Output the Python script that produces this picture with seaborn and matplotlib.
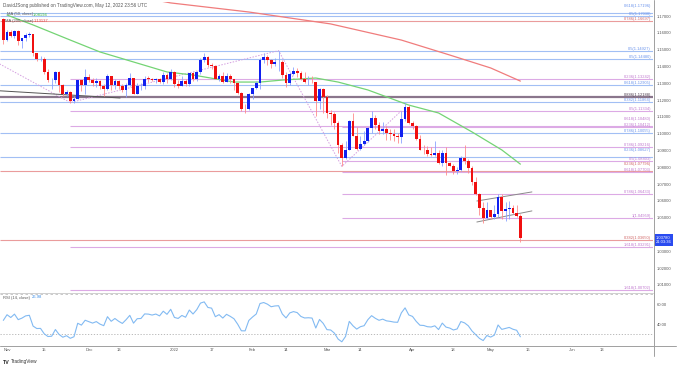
import numpy as np
import pandas as pd
import matplotlib
matplotlib.use('Agg')
import matplotlib.pyplot as plt
import matplotlib.transforms as mtransforms
from matplotlib.lines import Line2D
import seaborn as sns

# EUR/USD daily candles, Oct 29 2021 .. May 12 2022 (bar index 0..139)
opens = [1.1682,
    1.1560, 1.1607, 1.1580, 1.1610, 1.1555, 1.1568, 1.1587, 1.1592, 1.1478, 1.1445, 1.1446, 1.1367, 1.1319, 1.1321, 1.1368,
    1.1289, 1.1237, 1.1248, 1.1198, 1.1209, 1.1318, 1.1292,
    1.1338, 1.1320, 1.1302, 1.1315, 1.1285, 1.1266, 1.1343, 1.1290, 1.1316, 1.1284, 1.1258, 1.1290, 1.1330, 1.1239, 1.1282,
    1.1284, 1.1329, 1.1327, 1.1318, 1.1327, 1.1311, 1.1351, 1.1325,
    1.1370, 1.1297, 1.1287, 1.1312, 1.1296, 1.1360, 1.1325, 1.1367, 1.1442, 1.1458, 1.1412, 1.1406, 1.1325, 1.1345, 1.1310,
    1.1345, 1.1325, 1.1301, 1.1240, 1.1146, 1.1145,
    1.1235, 1.1270, 1.1302, 1.1440, 1.1456, 1.1440, 1.1415, 1.1425, 1.1428, 1.1349, 1.1305, 1.1358, 1.1373, 1.1363, 1.1324,
    1.1308, 1.1310, 1.1307, 1.1195, 1.1269,
    1.1219, 1.1124, 1.1118, 1.1064, 1.0932, 1.0854, 1.0903, 1.1076, 1.0986, 1.0911, 1.0942, 1.0955, 1.1035, 1.1094, 1.1050,
    1.1016, 1.1031, 1.1004, 1.0996, 1.0985, 1.0982, 1.1088, 1.1158,
    1.1067, 1.1046, 1.0971, 1.0905, 1.0901, 1.0880, 1.0875, 1.0886, 1.0827, 1.0888, 1.0826, 1.0810, 1.0778, 1.0787, 1.0854,
    1.0836, 1.0796, 1.0714, 1.0642, 1.0558, 1.0500,
    1.0545, 1.0507, 1.0524, 1.0623, 1.0541, 1.0551, 1.0561, 1.0530, 1.0512]
highs = [1.1692,
    1.1616, 1.1617, 1.1617, 1.1616, 1.1570, 1.1600, 1.1608, 1.1597, 1.1482, 1.1464, 1.1460, 1.1386, 1.1330, 1.1374, 1.1375,
    1.1298, 1.1262, 1.1252, 1.1226, 1.1319, 1.1323, 1.1383,
    1.1353, 1.1333, 1.1333, 1.1320, 1.1295, 1.1355, 1.1345, 1.1326, 1.1322, 1.1298, 1.1300, 1.1360, 1.1334, 1.1305, 1.1304,
    1.1345, 1.1342, 1.1332, 1.1330, 1.1335, 1.1369, 1.1361, 1.1386,
    1.1376, 1.1322, 1.1346, 1.1326, 1.1364, 1.1367, 1.1372, 1.1454, 1.1482, 1.1465, 1.1420, 1.1411, 1.1356, 1.1369, 1.1362,
    1.1356, 1.1328, 1.1301, 1.1246, 1.1175, 1.1240,
    1.1275, 1.1312, 1.1449, 1.1483, 1.1472, 1.1448, 1.1449, 1.1495, 1.1440, 1.1368, 1.1368, 1.1395, 1.1394, 1.1375, 1.1365,
    1.1345, 1.1343, 1.1307, 1.1274, 1.1273,
    1.1233, 1.1141, 1.1129, 1.1075, 1.0947, 1.0955, 1.1081, 1.1121, 1.1042, 1.0988, 1.1017, 1.1040, 1.1137, 1.1110, 1.1068,
    1.1069, 1.1047, 1.1028, 1.1030, 1.1003, 1.1137, 1.1185, 1.1171,
    1.1076, 1.1055, 1.0994, 1.0935, 1.0925, 1.0921, 1.0956, 1.0906, 1.0904, 1.0924, 1.0830, 1.0822, 1.0800, 1.0866, 1.0936,
    1.0852, 1.0807, 1.0740, 1.0650, 1.0594, 1.0593,
    1.0546, 1.0578, 1.0641, 1.0642, 1.0593, 1.0600, 1.0579, 1.0579, 1.0520]
lows = [1.1535,
    1.1552, 1.1575, 1.1571, 1.1528, 1.1513, 1.1553, 1.1577, 1.1464, 1.1432, 1.1433, 1.1358, 1.1309, 1.1264, 1.1302, 1.1250,
    1.1227, 1.1225, 1.1186, 1.1185, 1.1206, 1.1256, 1.1235,
    1.1306, 1.1287, 1.1279, 1.1264, 1.1227, 1.1262, 1.1263, 1.1269, 1.1265, 1.1251, 1.1222, 1.1286, 1.1236, 1.1234, 1.1262,
    1.1268, 1.1310, 1.1312, 1.1300, 1.1300, 1.1294, 1.1300, 1.1320,
    1.1280, 1.1272, 1.1285, 1.1285, 1.1286, 1.1312, 1.1316, 1.1355, 1.1430, 1.1397, 1.1388, 1.1324, 1.1315, 1.1301, 1.1306,
    1.1300, 1.1263, 1.1235, 1.1136, 1.1121, 1.1141,
    1.1210, 1.1266, 1.1268, 1.1419, 1.1411, 1.1393, 1.1404, 1.1374, 1.1331, 1.1280, 1.1290, 1.1350, 1.1340, 1.1320, 1.1303,
    1.1290, 1.1300, 1.1106, 1.1150, 1.1125,
    1.1092, 1.1055, 1.1030, 1.0885, 1.0806, 1.0850, 1.0902, 1.0985, 1.0906, 1.0905, 1.0934, 1.0950, 1.1006, 1.1027, 1.1001,
    1.0998, 1.0962, 1.0963, 1.0957, 1.0944, 1.0945, 1.1076, 1.1061,
    1.1030, 1.0966, 1.0904, 1.0880, 1.0868, 1.0865, 1.0868, 1.0822, 1.0809, 1.0757, 1.0806, 1.0760, 1.0761, 1.0780, 1.0823,
    1.0768, 1.0697, 1.0637, 1.0514, 1.0472, 1.0492,
    1.0490, 1.0492, 1.0505, 1.0493, 1.0483, 1.0494, 1.0522, 1.0504, 1.0354]
closes = [1.1558,
    1.1607, 1.1580, 1.1610, 1.1555, 1.1568, 1.1587, 1.1592, 1.1478, 1.1445, 1.1446, 1.1367, 1.1319, 1.1321, 1.1368, 1.1289,
    1.1237, 1.1248, 1.1198, 1.1209, 1.1318, 1.1292, 1.1338,
    1.1320, 1.1302, 1.1315, 1.1285, 1.1266, 1.1343, 1.1290, 1.1316, 1.1284, 1.1258, 1.1290, 1.1330, 1.1239, 1.1282, 1.1284,
    1.1329, 1.1327, 1.1318, 1.1327, 1.1311, 1.1351, 1.1325, 1.1370,
    1.1297, 1.1287, 1.1312, 1.1296, 1.1360, 1.1325, 1.1367, 1.1442, 1.1458, 1.1412, 1.1406, 1.1325, 1.1345, 1.1310, 1.1345,
    1.1325, 1.1301, 1.1240, 1.1146, 1.1145, 1.1235,
    1.1270, 1.1302, 1.1440, 1.1456, 1.1440, 1.1415, 1.1425, 1.1428, 1.1349, 1.1305, 1.1358, 1.1373, 1.1363, 1.1324, 1.1308,
    1.1310, 1.1307, 1.1195, 1.1269, 1.1219,
    1.1124, 1.1118, 1.1064, 1.0932, 1.0854, 1.0903, 1.1076, 1.0986, 1.0911, 1.0942, 1.0955, 1.1035, 1.1094, 1.1050, 1.1016,
    1.1031, 1.1004, 1.0996, 1.0985, 1.0982, 1.1088, 1.1158, 1.1067,
    1.1046, 1.0971, 1.0905, 1.0901, 1.0880, 1.0875, 1.0886, 1.0827, 1.0888, 1.0826, 1.0810, 1.0778, 1.0787, 1.0854, 1.0836,
    1.0796, 1.0714, 1.0642, 1.0558, 1.0500, 1.0545,
    1.0507, 1.0524, 1.0623, 1.0541, 1.0551, 1.0561, 1.0530, 1.0512, 1.0378]

# closes before the window (Sep/Oct 2021), only used to warm up the RSI
warmup_closes = [1.1838, 1.1875, 1.1880, 1.1868, 1.1838, 1.1818, 1.1827, 1.1812, 1.1807, 1.1805, 1.1818,
                 1.1763, 1.1726, 1.1727, 1.1723, 1.1690, 1.1741, 1.1719, 1.1695, 1.1683, 1.1596, 1.1578,
                 1.1596, 1.1620, 1.1597, 1.1533, 1.1553, 1.1571, 1.1552, 1.1529, 1.1595, 1.1598,
                 1.1600, 1.1608, 1.1635, 1.1652, 1.1622, 1.1644, 1.1608, 1.1599, 1.1604, 1.1681]

# moving averages (bar index, value)
sma50_bar = [1, 8, 18, 26, 44, 51, 62, 69, 75, 84, 90, 98, 109, 117, 126, 134, 139]
sma50_val = [1.1707, 1.1648, 1.1558, 1.1487, 1.1368, 1.1350, 1.1308, 1.1308, 1.1320, 1.1332,
             1.1308, 1.1261, 1.1171, 1.1124, 1.1011, 1.0904, 1.08194]
sma200_bar = [40, 45, 66, 88, 107, 120, 131, 139]
sma200_val = [1.1800, 1.1779, 1.1725, 1.1654, 1.1558, 1.1469, 1.1392, 1.13137]

# fibonacci levels: label, price, style, first bar
fib_labels = ["0.618(1.17196)", "0.5(1.17030)", "0.786(1.16697)", "0.5(1.14927)", "0.5(1.14480)",
              "0.236(1.13242)", "0.618(1.12905)", "0.886(1.12188)", "0.382(1.11864)", "0.5(1.11334)",
              "0.618(1.10480)", "0.236(1.10412)", "0.786(1.10055)", "0.786(1.09216)", "0.236(1.08627)",
              "0.5(1.08403)", "0.236(1.07796)", "0.618(1.07703)", "0.786(1.06433)", "1(1.04959)",
              "0.382(1.03650)", "1.618(1.03291)", "1.618(1.00702)"]
fib_prices = [1.17196, 1.17030, 1.16697, 1.14927, 1.14480, 1.13242, 1.12905, 1.12188, 1.11864, 1.11334,
              1.10480, 1.10412, 1.10055, 1.09216, 1.08627, 1.08403, 1.07796, 1.07703, 1.06433, 1.04959,
              1.03650, 1.03291, 1.00702]
fib_kind = ['blue', 'blue', 'red', 'blue', 'blue', 'purple', 'blue', 'dark', 'blue', 'purple',
            'purple', 'purple', 'blue', 'purple', 'blue', 'purple', 'red', 'purple', 'purple', 'purple',
            'red', 'purple', 'purple']
fib_start = [-1, -1, -1, -1, -1, 18, -1, -1, -1, 18,
             18, 91, -1, 18, -1, 91, -1, 91, 91, 91,
             -1, 18, 18]

# drawings (bar index, price)
zigzag_bar = [-1, 18, 74, 91, 107]
zigzag_price = [1.1416, 1.1186, 1.1495, 1.0806, 1.1137]
trend_bar = [-1, 31.4]
trend_price = [1.12560, 1.12131]
chan_up_bar, chan_up_price = [127.3, 142.1], [1.0600, 1.0654]
chan_lo_bar, chan_lo_price = [127.3, 142.1], [1.0475, 1.0541]

price_ticks = [1.01, 1.02, 1.03, 1.04, 1.05, 1.06, 1.07, 1.08, 1.09, 1.10, 1.11, 1.12, 1.13, 1.14, 1.15, 1.16, 1.17]
date_bars = [1, 11, 23, 31, 46, 56, 67, 76, 87, 96, 110, 121, 131, 141, 153, 161]
date_labels = ["Nov", "15", "Dec", "13", "2022", "17", "Feb", "14", "Mar", "14", "Apr", "18", "May", "16", "Jun", "13"]

line_col = {'blue': '#a2bff4', 'purple': '#dcaae5', 'red': '#ea9c9c', 'dark': '#8a768c'}
text_col = {'blue': '#6a93ec', 'purple': '#c078cf', 'red': '#d06464', 'dark': '#4a394c'}

sns.set_theme(style='white')
plt.rcParams['font.family'] = ['Liberation Sans', 'DejaVu Sans']

FS = 3.0
W, H = 679, 368
fig = plt.figure(figsize=(W / 100, H / 100), dpi=100)
fig.patch.set_facecolor('white')
ax = fig.add_axes([0, 1 - 292 / H, 653 / W, 290 / H])
ax_rsi = fig.add_axes([0, 1 - 345 / H, 653 / W, 52 / H])

xmin, xmax = -0.89, 174.65
n = len(closes)
bars = np.arange(n)
o, h, l, c = map(np.array, (opens, highs, lows, closes))
up = c >= o

# fib levels; when the next level sits right below, lift this label a line higher
blend = mtransforms.blended_transform_factory(ax.transAxes, ax.transData)
lifted = mtransforms.offset_copy(blend, fig=fig, y=3.4, units='points')
for i, (lab, p, k, s) in enumerate(zip(fib_labels, fib_prices, fib_kind, fib_start)):
    ax.hlines(p, max(s, xmin), xmax, color=line_col[k], lw=1.6 if k == 'dark' else 0.8, zorder=1)
    crowded = i + 1 < len(fib_prices) and p - fib_prices[i + 1] < 0.0025
    ax.text(0.997, p, lab, transform=lifted if crowded else blend, ha='right', va='bottom',
            fontsize=FS - 0.1, color=text_col[k], zorder=6)

# drawings
ax.plot(zigzag_bar, zigzag_price, color='#d49ee0', lw=0.7, ls=(0, (1.5, 1.5)), zorder=2)
ax.plot(trend_bar, trend_price, color='#555555', lw=0.7, zorder=2)
ax.plot(chan_up_bar, chan_up_price, color='#8a8a8a', lw=0.7, zorder=2)
ax.plot(chan_lo_bar, chan_lo_price, color='#8a8a8a', lw=0.7, zorder=2)

# moving averages
sns.lineplot(x=sma200_bar, y=sma200_val, ax=ax, color='#f07c7c', lw=0.9, sort=False, zorder=3)
sns.lineplot(x=sma50_bar, y=sma50_val, ax=ax, color='#74d474', lw=0.9, sort=False, zorder=3)

# candles
ax.vlines(bars, l, h, colors=np.where(up, '#8aa2ff', '#ff8a8a'), lw=0.6, zorder=4)
ax.bar(bars, np.maximum(np.abs(c - o), 0.0003), bottom=np.minimum(o, c), width=0.74,
       color=np.where(up, '#1020f0', '#f01010'), linewidth=0, zorder=5)

ax.set_xlim(xmin, xmax)
ax.set_ylim(1.16 - 259 / 1680, 1.16 + 31 / 1680)
ax.yaxis.tick_right()
ax.set_yticks(price_ticks)
# the 1.04000 label sits under the last-price tag
ax.set_yticklabels(['' if abs(t - 1.04) < 1e-9 else f"{t:.5f}" for t in price_ticks])
ax.tick_params(axis='y', length=0, pad=3, labelsize=FS, labelcolor='#555555')
ax.set_xticks([])
ax.set_ylabel('')
for sp in ax.spines.values():
    sp.set_visible(False)

# last price tag
ax.annotate(f"{closes[-1]:.5f}\n21:03:36", xy=(1.0, closes[-1]), xycoords=blend,
            xytext=(2.2, 2.0), textcoords='offset points', ha='left', va='top', fontsize=FS,
            color='white', linespacing=1.25, annotation_clip=False, zorder=10,
            bbox=dict(boxstyle='square,pad=0.35', fc='#2a4bf0', ec='none'))

# RSI (14, Wilder)
allc = pd.Series(warmup_closes + closes)
delta = allc.diff()
gain = delta.clip(lower=0).ewm(alpha=1 / 14, adjust=False).mean()
loss = (-delta.clip(upper=0)).ewm(alpha=1 / 14, adjust=False).mean()
rsi = (100 - 100 / (1 + gain / loss)).iloc[len(warmup_closes):].to_numpy()
sns.lineplot(x=bars, y=rsi, ax=ax_rsi, color='#82baf2', lw=0.8, zorder=3)
ax_rsi.axhline(30, color='#b0b0b0', lw=0.6, ls=(0, (1.5, 2)))
ax_rsi.axhline(70, color='#c0c0c0', lw=0.6, ls=(0, (3, 3)))
ax_rsi.set_xlim(xmin, xmax)
ax_rsi.set_ylim(19, 71)
ax_rsi.yaxis.tick_right()
ax_rsi.set_yticks([40, 60])
ax_rsi.set_yticklabels(["40.00", "60.00"])
ax_rsi.tick_params(axis='y', length=0, pad=3, labelsize=FS, labelcolor='#555555')
ax_rsi.set_xticks(date_bars)
ax_rsi.set_xticklabels(date_labels)
ax_rsi.tick_params(axis='x', length=0, pad=2.0, labelsize=FS, labelcolor='#555555')
ax_rsi.set_ylabel('')
for sp in ax_rsi.spines.values():
    sp.set_visible(False)

# pane borders
def px_line(x0, y0, x1, y1, col='#a0a0a0', lw=0.7):
    fig.add_artist(Line2D([x0 / W, x1 / W], [1 - y0 / H, 1 - y1 / H], color=col, lw=lw))

px_line(0, 292.5, 653, 292.5, '#c8c8c8', 0.6)
px_line(0, 345.5, 676, 345.5)
px_line(653.5, 0, 653.5, 356)

# texts
fig.text(3 / W, 1 - 5 / H, "DavidJSong published on TradingView.com, May 12, 2022 23:56 UTC",
         fontsize=FS + 0.3, color='#555555', va='center')
fig.text(7 / W, 1 - 14.5 / H, "MA (50, close)", fontsize=FS, color='#555555', va='center')
fig.text(33 / W, 1 - 14.5 / H, "1.08194", fontsize=FS, color='#3cb83c', va='center')
fig.text(5 / W, 1 - 21 / H, "MA (200, close)", fontsize=FS, color='#555555', va='center')
fig.text(34 / W, 1 - 21 / H, "1.13137", fontsize=FS, color='#e04848', va='center')
fig.text(3 / W, 1 - 297.5 / H, "RSI (14, close)", fontsize=FS, color='#555555', va='center')
fig.text(32 / W, 1 - 297.5 / H, "26.98", fontsize=FS, color='#3c8ee8', va='center')
fig.text(3 / W, 1 - 362 / H, "TV", fontsize=3.8, color='#222222', va='center', weight='bold')
fig.text(11 / W, 1 - 362 / H, "TradingView", fontsize=3.4, color='#333333', va='center')

fig.savefig('out.png', dpi=100, facecolor='white')
